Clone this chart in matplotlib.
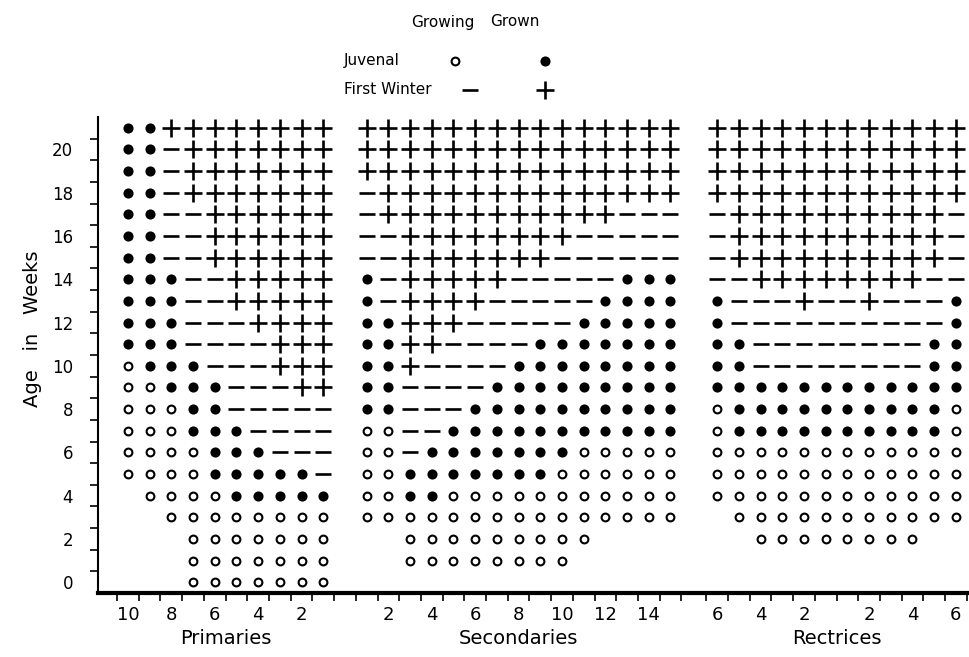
import matplotlib
matplotlib.use("Agg")
import matplotlib.pyplot as plt
import numpy as np
from matplotlib.transforms import blended_transform_factory

plt.rcParams['font.family'] = ['DejaVu Sans']

# Коды: o = juvenal growing, * = juvenal grown, - = first winter growing, + = first winter grown, . = nothing
weeks = list(range(21, -1, -1))  # строки сверху вниз

primaries_feathers = [10, 9, 8, 7, 6, 5, 4, 3, 2, 1]
primaries_rows = [
    "**++++++++",
    "**-+++++++",
    "**-+++++++",
    "**-+++++++",
    "**--++++++",
    "**--++++++",
    "**--++++++",
    "***--+++++",
    "***--+++++",
    "***---++++",
    "***----+++",
    "o***---+++",
    "oo***---++",
    "ooo**-----",
    "ooo***----",
    "oooo***---",
    "oooo*****-",
    ".oooo*****",
    "..oooooooo",
    "...ooooooo",
    "...ooooooo",
    "...ooooooo",
]

secondaries_feathers = list(range(1, 16))
secondaries_rows = [
    "+++++++++++++++",
    "+++++++++++++++",
    "+++++++++++++++",
    "-++++++++++++++",
    "-+++++++++++---",
    "--++++++++-----",
    "--+++++++------",
    "*-+++++-----***",
    "*-++++-----****",
    "**+++-----*****",
    "**++----*******",
    "**+----********",
    "**----*********",
    "**---**********",
    "oo--***********",
    "oo-*******ooooo",
    "oo*******oooooo",
    "oo**ooooooooooo",
    "ooooooooooooooo",
    "..ooooooooo....",
    "..oooooooo.....",
    "...............",
]

rectrices_feathers = [6, 5, 4, 3, 2, 1, 1, 2, 3, 4, 5, 6]
rectrices_rows = [
    "++++++++++++",
    "++++++++++++",
    "++++++++++++",
    "++++++++++++",
    "-++++++++++-",
    "-++++++++++-",
    "-++++++++++-",
    "--++++++++--",
    "*---+--+---*",
    "*----------*",
    "**--------**",
    "**--------**",
    "************",
    "o**********o",
    "o**********o",
    "oooooooooooo",
    "oooooooooooo",
    "oooooooooooo",
    ".ooooooooooo",
    "..oooooooo..",
    "............",
    "............",
]

# стили символов
styles = {
    'o': dict(marker='o', markersize=5.6, markerfacecolor='white',
              markeredgecolor='black', markeredgewidth=1.5),
    '*': dict(marker='o', markersize=7.3, markerfacecolor='black',
              markeredgecolor='black', markeredgewidth=0),
    '-': dict(marker='_', markersize=12, markeredgecolor='black', markeredgewidth=1.9),
    '+': dict(marker='+', markersize=12.5, markeredgecolor='black', markeredgewidth=1.9),
}

panels = [
    ('Primaries', primaries_feathers, primaries_rows, 0.0),
    ('Secondaries', secondaries_feathers, secondaries_rows, 11.0),
    ('Rectrices', rectrices_feathers, rectrices_rows, 27.15),
]

fig = plt.figure(figsize=(9.7, 6.57), dpi=100, facecolor='white')
ax = fig.add_axes([0.101, 0.0974, 0.899, 0.7245])

tick_pos, tick_lab = [], []
for name, feathers, rows, x0 in panels:
    xs_cols = [x0 + i for i in range(len(feathers))]
    for code, st in styles.items():
        xs, ys = [], []
        for w, row in zip(weeks, rows):
            for xc, c in zip(xs_cols, row):
                if c == code:
                    xs.append(xc)
                    ys.append(w)
        ax.plot(xs, ys, linestyle='none', clip_on=False, **st)
    for xc, f in zip(xs_cols, feathers):
        if f % 2 == 0:
            tick_pos.append(xc)
            tick_lab.append(str(f))
    ax.text(x0 + (len(feathers) - 1) / 2, 1 - 639 / 657, name, fontsize=14,
            ha='center', va='center',
            transform=blended_transform_factory(ax.transData, fig.transFigure))

ax.set_xlim(-1.38, 38.8)
ax.set_ylim(-0.5, 21.5)

for s in ['top', 'right']:
    ax.spines[s].set_visible(False)
ax.spines['bottom'].set_linewidth(3)
ax.spines['left'].set_linewidth(1.5)
ax.spines['left'].set_bounds(-0.5, 21.5)

ax.set_xticks(tick_pos)
ax.set_xticklabels(tick_lab, fontsize=13)
minor_x = list(np.arange(-0.5, 26, 1.0)) + list(np.arange(26.65, 38.7, 1.0))
ax.set_xticks(minor_x, minor=True)

ax.set_yticks(range(0, 21, 2))
ax.set_yticklabels([str(v) for v in range(0, 21, 2)], fontsize=12)
ax.set_yticks(np.arange(0.5, 21, 1.0), minor=True)

ax.tick_params(axis='both', which='major', length=0)
ax.tick_params(axis='x', which='major', pad=9)
ax.tick_params(axis='y', which='major', pad=18)
ax.tick_params(axis='both', which='minor', length=6, width=1.2, direction='out')

fig.text(0.034, 0.50, 'Age   in   Weeks', rotation=90, fontsize=14,
         ha='center', va='center')

# легенда
fig.text(443 / 970, 1 - 22 / 657, 'Growing', fontsize=11, ha='center', va='center')
fig.text(515 / 970, 1 - 22 / 657, 'Grown', fontsize=11, ha='center', va='center')
fig.text(344 / 970, 1 - 61 / 657, 'Juvenal', fontsize=11, ha='left', va='center')
fig.text(344 / 970, 1 - 90 / 657, 'First Winter', fontsize=11, ha='left', va='center')
legend_keys = [('o', 455, 61), ('*', 545, 61), ('-', 470, 90), ('+', 545, 90)]
for code, px, py in legend_keys:
    ax.plot([px / 970], [1 - py / 657], transform=fig.transFigure,
            clip_on=False, linestyle='none', **styles[code])

fig.savefig('out.png', dpi=100, facecolor='white')
